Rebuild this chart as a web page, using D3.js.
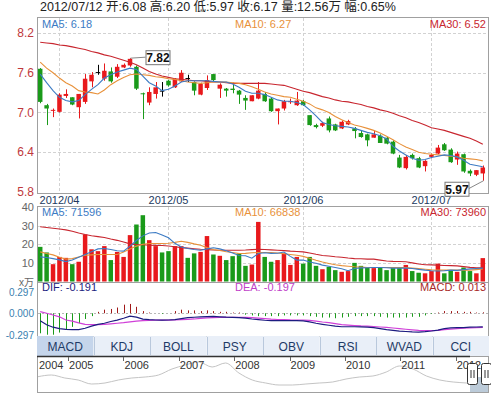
<!DOCTYPE html>
<html>
<head>
<meta charset="utf-8">
<script src="https://cdn.jsdelivr.net/npm/d3@7"></script>
<style>
  body { margin: 0; background: #fff; }
  text { font-family: "Liberation Sans", Arial, "Noto Sans CJK SC", sans-serif; }
</style>
</head>
<body>
<div id="chart"></div>
<script>
// ---- data (price in yuan, volume in 万 shares) ----
const open  = [7.66,7.11,7.03,7.01,7.25,7.23,7.08,7.16,7.47,7.61,7.51,7.62,7.54,7.68,7.71,7.69,7.29,7.15,7.28,7.33,
               7.48,7.38,7.47,7.52,7.46,7.27,7.37,7.58,7.36,7.36,7.36,7.33,7.22,7.17,7.21,7.28,7.21,7.02,7.06,7.16,
               7.11,7.17,6.96,6.81,6.80,6.91,6.82,6.76,6.82,6.76,6.69,6.67,6.62,6.65,6.62,6.56,6.32,6.16,6.36,6.31,
               6.19,6.33,6.38,6.52,6.44,6.29,6.37,6.12,6.06,6.08];
const high  = [7.67,7.13,7.06,7.29,7.35,7.23,7.28,7.58,7.61,7.72,7.74,7.68,7.73,7.74,7.82,7.71,7.30,7.38,7.46,7.46,
               7.49,7.52,7.64,7.57,7.47,7.45,7.56,7.58,7.44,7.37,7.45,7.34,7.26,7.26,7.46,7.31,7.23,7.06,7.19,7.21,
               7.31,7.19,6.96,6.83,6.86,6.94,6.83,6.88,6.89,6.78,6.73,6.68,6.72,6.67,6.63,6.58,6.36,6.36,6.38,6.33,
               6.28,6.38,6.51,6.54,6.46,6.41,6.38,6.14,6.13,6.20];
const low   = [7.14,6.81,6.93,7.00,7.22,7.11,6.91,7.13,7.38,7.57,7.48,7.45,7.52,7.67,7.69,7.34,6.90,7.11,7.21,7.24,
               7.39,7.37,7.46,7.46,7.26,7.26,7.34,7.46,7.22,7.24,7.29,7.13,7.04,7.17,7.20,7.16,7.01,6.82,7.03,7.13,
               7.10,7.10,6.80,6.76,6.78,6.70,6.72,6.75,6.81,6.61,6.62,6.49,6.62,6.54,6.52,6.37,6.16,6.14,6.29,6.16,
               6.11,6.31,6.37,6.42,6.24,6.21,6.09,6.04,6.04,5.97];
const close = [7.16,7.06,7.04,7.27,7.28,7.12,7.28,7.51,7.57,7.61,7.63,7.47,7.69,7.72,7.81,7.36,7.28,7.31,7.38,7.33,
               7.41,7.51,7.60,7.52,7.33,7.43,7.49,7.49,7.42,7.33,7.34,7.27,7.18,7.26,7.33,7.17,7.02,7.06,7.17,7.17,
               7.18,7.11,6.81,6.78,6.84,6.73,6.73,6.86,6.87,6.72,6.63,6.58,6.67,6.54,6.53,6.38,6.17,6.33,6.31,6.17,
               6.27,6.36,6.47,6.43,6.25,6.38,6.11,6.08,6.13,6.17];
const ma5   = [7.58,7.45,7.33,7.23,7.18,7.16,7.18,7.27,7.35,7.42,7.52,7.57,7.61,7.64,7.67,7.65,7.55,7.45,7.40,7.33,
               7.35,7.40,7.46,7.48,7.48,7.48,7.48,7.47,7.46,7.46,7.43,7.38,7.32,7.29,7.29,7.27,7.23,7.19,7.17,7.17,
               7.15,7.12,7.04,6.95,6.85,6.82,6.80,6.79,6.78,6.76,6.73,6.70,6.68,6.65,6.60,6.49,6.42,6.36,6.31,6.28,
               6.29,6.32,6.34,6.36,6.35,6.33,6.28,6.22,6.20,6.18];
const ma10  = [7.76,7.67,7.60,7.52,7.45,7.40,7.33,7.31,7.30,7.28,7.34,7.42,7.48,7.53,7.57,7.58,7.57,7.56,7.54,7.53,
               7.51,7.50,7.48,7.46,7.45,7.44,7.45,7.46,7.46,7.46,7.45,7.44,7.42,7.39,7.35,7.31,7.28,7.26,7.24,7.23,
               7.20,7.17,7.13,7.07,7.04,7.00,6.94,6.89,6.85,6.81,6.79,6.76,6.73,6.69,6.64,6.59,6.53,6.48,6.44,6.40,
               6.38,6.37,6.36,6.35,6.34,6.33,6.31,6.30,6.29,6.27];
const ma30  = [8.06,8.05,8.04,8.02,8.01,7.99,7.97,7.95,7.92,7.90,7.87,7.85,7.82,7.79,7.76,7.72,7.67,7.62,7.58,7.55,
               7.53,7.51,7.50,7.49,7.48,7.48,7.47,7.46,7.46,7.45,7.44,7.44,7.44,7.44,7.44,7.44,7.43,7.42,7.41,7.38,
               7.35,7.32,7.30,7.27,7.24,7.22,7.19,7.17,7.16,7.14,7.12,7.09,7.07,7.04,7.02,6.99,6.95,6.92,6.88,6.85,
               6.81,6.77,6.75,6.73,6.70,6.67,6.64,6.61,6.57,6.52];
const volume = [18.6,15.6,9.3,13.2,12.7,9.3,10.6,25.3,17.3,16.3,19.0,11.5,15.9,13.2,24.9,30.6,35.6,22.2,19.0,15.6,
                16.3,19.0,19.0,12.7,15.1,15.9,24.4,14.5,13.8,11.5,13.6,15.1,8.4,9.1,32.0,13.2,10.6,11.5,15.1,8.9,
                13.2,9.6,13.2,8.4,6.6,7.9,6.1,5.2,5.6,10.0,8.4,7.5,7.2,7.5,6.1,7.2,7.2,8.9,5.6,4.7,
                4.4,5.6,9.6,4.4,6.1,5.2,7.5,5.6,4.4,12.56];
const volMa5  = [13.2,12.9,12.3,11.6,10.7,11.5,13.0,14.5,16.0,17.5,17.7,17.2,16.5,16.3,19.0,22.0,24.5,26.0,26.3,25.0,
                 23.5,20.5,18.5,17.7,17.2,16.8,17.5,18.1,17.5,16.5,15.3,14.0,13.8,12.5,15.0,15.4,15.1,15.2,15.8,13.5,
                 11.5,11.5,10.5,9.8,8.8,8.2,7.5,6.8,5.8,7.0,7.3,7.4,7.5,7.5,7.4,7.2,7.2,7.2,7.0,6.5,
                 6.1,5.8,5.6,5.8,6.1,6.0,6.4,6.8,7.0,7.16];
const volMa10 = [15.9,15.0,14.3,13.0,12.0,12.3,13.2,14.1,14.3,14.5,14.5,14.5,14.5,15.8,17.5,19.0,20.0,20.4,20.4,20.4,
                 20.5,21.0,21.6,21.0,20.2,19.5,18.2,17.2,16.6,16.0,15.6,15.0,15.1,15.4,15.6,15.6,15.6,15.3,14.9,14.5,
                 14.1,13.5,12.5,11.4,10.5,9.7,9.0,8.5,8.2,7.9,7.7,7.5,7.5,7.5,7.5,7.5,7.5,7.5,7.2,6.9,
                 6.6,6.3,6.1,6.1,6.1,6.1,6.2,6.1,6.4,6.68];
const volMa30 = [29.4,29.0,28.6,28.2,27.7,27.0,26.0,25.2,24.6,24.1,23.6,22.8,22.1,21.2,20.2,19.8,19.7,19.5,19.4,19.3,
                 19.1,18.7,18.2,17.9,17.6,17.3,17.1,16.9,16.8,16.8,16.8,16.8,16.9,17.1,17.3,17.2,17.0,16.8,16.6,16.3,
                 16.1,15.9,15.3,14.6,14.0,13.7,13.3,13.0,12.6,12.3,12.2,12.0,12.0,11.5,11.0,10.8,10.7,10.6,10.0,9.4,
                 9.0,8.9,8.8,8.6,8.5,8.4,8.0,7.6,7.4,7.4];
const dif  = [-0.104,-0.160,-0.195,-0.215,-0.225,-0.228,-0.228,-0.210,-0.180,-0.155,-0.140,-0.115,-0.095,-0.070,-0.040,-0.055,-0.082,-0.090,-0.094,-0.095,
              -0.094,-0.088,-0.075,-0.062,-0.056,-0.050,-0.047,-0.045,-0.050,-0.055,-0.058,-0.062,-0.068,-0.080,-0.088,-0.098,-0.104,-0.104,-0.104,-0.104,
              -0.104,-0.106,-0.120,-0.140,-0.155,-0.168,-0.180,-0.189,-0.189,-0.189,-0.190,-0.195,-0.200,-0.215,-0.230,-0.240,-0.250,-0.255,-0.260,-0.263,
              -0.258,-0.248,-0.235,-0.215,-0.205,-0.200,-0.200,-0.195,-0.192,-0.191];
const dea  = [0.023,0.000,-0.024,-0.050,-0.094,-0.110,-0.135,-0.155,-0.160,-0.158,-0.155,-0.148,-0.140,-0.132,-0.120,-0.110,-0.104,-0.100,-0.097,-0.096,
              -0.096,-0.094,-0.090,-0.085,-0.080,-0.072,-0.065,-0.060,-0.058,-0.057,-0.056,-0.056,-0.057,-0.062,-0.068,-0.075,-0.082,-0.087,-0.090,-0.093,
              -0.094,-0.096,-0.100,-0.110,-0.122,-0.132,-0.145,-0.158,-0.165,-0.172,-0.177,-0.180,-0.185,-0.192,-0.198,-0.206,-0.215,-0.224,-0.232,-0.240,
              -0.244,-0.244,-0.238,-0.230,-0.222,-0.215,-0.210,-0.205,-0.200,-0.197];
const macd = [-0.28,-0.30,-0.30,-0.27,-0.23,-0.19,-0.14,-0.08,-0.04,0.02,0.05,0.06,0.08,0.12,0.13,0.09,0.03,0.01,0.00,-0.01,
              0.00,0.03,0.05,0.04,0.04,0.03,0.04,0.03,0.02,0.02,0.01,0.01,-0.02,-0.03,-0.04,-0.04,-0.04,-0.04,-0.03,-0.03,
              -0.03,-0.03,-0.04,-0.05,-0.06,-0.06,-0.07,-0.06,-0.05,-0.04,-0.04,-0.04,-0.04,-0.05,-0.06,-0.06,-0.06,-0.06,-0.05,-0.05,
              -0.03,-0.01,0.01,0.03,0.03,0.03,0.02,0.02,0.01,0.013];

// month labels and the index of the first trading day of each month
const monthLabels = ["2012/04", "2012/05", "2012/06", "2012/07"];
const monthStart  = [3, 20, 41, 61];

const priceTicks = [8.2, 7.6, 7.0, 6.4, 5.8];
const volTicks   = [40, 30, 20, 10];
const macdTicks  = [0.297, 0.000, -0.297];

const tabs = ["MACD", "KDJ", "BOLL", "PSY", "OBV", "RSI", "WVAD", "CCI"];

// long history strip at the bottom (relative level)
const navYears  = [2004, 2005, 2006, 2007, 2008, 2009, 2010, 2011, 2012];
const navValues = [15.3,17,14,12,8,9,12,14,15,17,23,27,30,25,29,19,12,9,7,7,8,9,10,13,15,16,20,26,23,16,12,10,9,8];

const title = "2012/07/12 开:6.08 高:6.20 低:5.97 收:6.17 量:12.56万 幅:0.65%";

// ---- colours ----
const RED = "#e8191c", GREEN = "#1a9a1a";
const C_MA5 = "#3c7bc4", C_MA10 = "#e8913a", C_MA30 = "#c8262f";

// ---- layout ----
const W = 491, H = 394;
const left = 37, right = 489;
const svg = d3.select("#chart").append("svg").attr("width", W).attr("height", H);

const idx = close.map((d, i) => i);
const x = d3.scaleBand().domain(idx).range([left, 486]).paddingInner(0.3).paddingOuter(0.15);
const bw = x.bandwidth();
const cx = i => Math.round(x(i) + bw / 2) + 0.5;

const yP = d3.scaleLinear().domain([5.8, 8.2]).range([192, 33]);
const yV = d3.scaleLinear().domain([0, 40]).range([281.5, 207]);
const yM = d3.scaleLinear().domain([-0.297, 0.297]).range([334.5, 292]);

const colorOf = i => close[i] > open[i] ? RED : close[i] < open[i] ? GREEN : "#000";
const volColor = i => {
  if (close[i] !== open[i]) return colorOf(i);
  return i > 0 && close[i] < close[i - 1] ? GREEN : RED;
};

// title
svg.append("text").attr("x", 40).attr("y", 11).attr("font-size", 12.5).attr("fill", "#222")
  .text(title);

// panel frames
const panels = [[17, 193], [206, 282], [282, 336]];
panels.forEach(([t, b]) => {
  svg.append("rect").attr("x", left + 0.5).attr("y", t + 0.5)
    .attr("width", right - left - 1).attr("height", b - t)
    .attr("fill", "#fff").attr("stroke", "#a0a0a0");
});

const grid = svg.append("g").attr("stroke", "#d2d2d2").attr("stroke-dasharray", "3,2");

// horizontal grid lines
priceTicks.slice(0, 4).forEach(t => {
  grid.append("line").attr("x1", left + 1).attr("x2", right - 1)
    .attr("y1", Math.round(yP(t)) + 0.5).attr("y2", Math.round(yP(t)) + 0.5);
});
volTicks.slice(1).forEach(t => {
  grid.append("line").attr("x1", left + 1).attr("x2", right - 1)
    .attr("y1", Math.round(yV(t)) + 0.5).attr("y2", Math.round(yV(t)) + 0.5);
});
// vertical month grid lines (price + volume)
monthStart.forEach(i => {
  grid.append("line").attr("x1", cx(i)).attr("x2", cx(i)).attr("y1", 18).attr("y2", 192);
  grid.append("line").attr("x1", cx(i)).attr("x2", cx(i)).attr("y1", 207).attr("y2", 281);
});
// macd zero line
svg.append("line").attr("x1", left + 1).attr("x2", right - 1)
  .attr("y1", Math.round(yM(0)) + 0.5).attr("y2", Math.round(yM(0)) + 0.5)
  .attr("stroke", "#b8b8b8").attr("stroke-dasharray", "2,2");

// y axis labels
const axisFont = 12;
priceTicks.forEach(t => {
  svg.append("text").attr("x", 34).attr("y", yP(t) + 4).attr("text-anchor", "end")
    .attr("font-size", axisFont).attr("fill", "#c0383c").text(t.toFixed(1));
});
volTicks.forEach(t => {
  svg.append("text").attr("x", 34).attr("y", yV(t) + 4).attr("text-anchor", "end")
    .attr("font-size", 11).attr("fill", "#666").text(t);
});
svg.append("text").attr("x", 34).attr("y", 286).attr("text-anchor", "end")
  .attr("font-size", 10).attr("fill", "#666").text("x万");
macdTicks.forEach(t => {
  svg.append("text").attr("x", 34).attr("y", yM(t) + 4).attr("text-anchor", "end")
    .attr("font-size", 10).attr("fill", "#3a7fb0").text(t.toFixed(3));
});

// month labels under price panel
monthStart.forEach((i, k) => {
  svg.append("text").attr("x", cx(i)).attr("y", 204).attr("text-anchor", "middle")
    .attr("font-size", 11).attr("fill", "#22395e").text(monthLabels[k]);
});

// ---- candles ----
const candles = svg.append("g");
idx.forEach(i => {
  const c = colorOf(i);
  candles.append("line").attr("x1", cx(i)).attr("x2", cx(i))
    .attr("y1", yP(high[i])).attr("y2", yP(low[i])).attr("stroke", c);
  const top = yP(Math.max(open[i], close[i]));
  const bot = yP(Math.min(open[i], close[i]));
  candles.append("rect").attr("x", x(i)).attr("y", top)
    .attr("width", bw).attr("height", Math.max(1, bot - top)).attr("fill", c);
});

// moving averages
const lineP = arr => d3.line().x((d, i) => x(i) + bw / 2).y(d => yP(d))(arr);
[[ma30, C_MA30], [ma10, C_MA10], [ma5, C_MA5]].forEach(([arr, col]) => {
  svg.append("path").attr("d", lineP(arr)).attr("fill", "none").attr("stroke", col).attr("stroke-width", 1.1);
});

// max / min callouts
const iMax = d3.maxIndex(high), iMin = d3.minIndex(low);
function callout(i, val, dx, dy) {
  const px = cx(i), py = yP(val);
  const bx = px + dx, by = py + dy;
  const g = svg.append("g");
  const lx = dx > 0 ? bx : bx + 24;
  g.append("line").attr("x1", px).attr("y1", py).attr("x2", lx).attr("y2", by + 7)
    .attr("stroke", "#888");
  g.append("rect").attr("x", bx + 0.5).attr("y", by + 0.5).attr("width", 24).attr("height", 14)
    .attr("fill", "#fff").attr("stroke", "#777");
  g.append("text").attr("x", bx + 12.5).attr("y", by + 12).attr("text-anchor", "middle")
    .attr("font-size", 12).attr("font-weight", "bold").attr("fill", "#111").text(val.toFixed(2));
}
callout(iMax, high[iMax], 15, -8);
callout(iMin, low[iMin], -39, 1);

// ---- volume ----
const vol = svg.append("g");
idx.forEach(i => {
  vol.append("rect").attr("x", x(i)).attr("y", yV(volume[i]))
    .attr("width", bw).attr("height", yV(0) - yV(volume[i])).attr("fill", volColor(i));
});
const lineV = arr => d3.line().x((d, i) => x(i) + bw / 2).y(d => yV(d))(arr);
[[volMa30, C_MA30], [volMa10, C_MA10], [volMa5, C_MA5]].forEach(([arr, col]) => {
  svg.append("path").attr("d", lineV(arr)).attr("fill", "none").attr("stroke", col).attr("stroke-width", 1.1);
});

// ---- MACD ----
const mg = svg.append("g");
idx.forEach(i => {
  mg.append("line").attr("x1", cx(i)).attr("x2", cx(i))
    .attr("y1", yM(0)).attr("y2", yM(macd[i]))
    .attr("stroke", macd[i] >= 0 ? "#a01818" : GREEN);
});
const lineM = arr => d3.line().x((d, i) => x(i) + bw / 2).y(d => yM(d))(arr);
svg.append("path").attr("d", lineM(dea)).attr("fill", "none").attr("stroke", "#d040d8").attr("stroke-width", 1.2);
svg.append("path").attr("d", lineM(dif)).attr("fill", "none").attr("stroke", "#1c1c80").attr("stroke-width", 1.2);

// ---- legends ----
function legend(yy, items) {
  const [a, b, c] = items;
  svg.append("text").attr("x", 42).attr("y", yy).attr("font-size", 11).attr("fill", a[1]).text(a[0]);
  svg.append("text").attr("x", 235).attr("y", yy).attr("font-size", 11).attr("fill", b[1]).text(b[0]);
  svg.append("text").attr("x", 486).attr("y", yy).attr("text-anchor", "end").attr("font-size", 11)
    .attr("fill", c[1]).text(c[0]);
}
legend(28, [["MA5: " + ma5[69].toFixed(2), C_MA5], ["MA10: " + ma10[69].toFixed(2), C_MA10], ["MA30: " + ma30[69].toFixed(2), C_MA30]]);
legend(216, [["MA5: 71596", C_MA5], ["MA10: 66838", C_MA10], ["MA30: 73960", C_MA30]]);
legend(291, [["DIF: " + dif[69].toFixed(3), "#1c1c80"], ["DEA: " + dea[69].toFixed(3), "#c040c8"], ["MACD: " + macd[69].toFixed(3), "#a82828"]]);

// ---- tabs ----
const tabX = d3.scaleBand().domain(tabs).range([left, right]);
const tg = svg.append("g");
tabs.forEach((t, k) => {
  tg.append("rect").attr("x", tabX(t)).attr("y", 336).attr("width", tabX.bandwidth()).attr("height", 20)
    .attr("fill", k === 0 ? "#c5d5eb" : "#e9eff8");
  if (k > 0) tg.append("line").attr("x1", Math.round(tabX(t)) + 0.5).attr("x2", Math.round(tabX(t)) + 0.5)
    .attr("y1", 337).attr("y2", 355).attr("stroke", "#b9c8dc");
  tg.append("text").attr("x", tabX(t) + tabX.bandwidth() / 2).attr("y", 350.5).attr("text-anchor", "middle")
    .attr("font-size", 12).attr("fill", "#1e3a66").text(t);
});

// ---- navigator ----
const navX = d3.scaleLinear().domain([2004.44, 2012.6]).range([left, right]);
const navIx = d3.scaleLinear().domain([0, navValues.length - 1]).range([38, 480]);
const navY = d3.scaleLinear().domain([0, 30]).range([392, 362]);
svg.append("rect").attr("x", left + 0.5).attr("y", 356.5).attr("width", right - left - 1).attr("height", 36)
  .attr("fill", "#fff").attr("stroke", "#a0a0a0");
svg.append("line").attr("x1", left).attr("x2", 470).attr("y1", 356.5).attr("y2", 356.5)
  .attr("stroke", "#333").attr("stroke-width", 1.5);
svg.append("path").attr("d", d3.line().x((d, i) => navIx(i)).y(d => navY(d)).curve(d3.curveMonotoneX)(navValues))
  .attr("fill", "none").attr("stroke", "#c4c4c4");
navYears.forEach((yr, k) => {
  const px = Math.max(left + 1, navX(yr));
  if (k > 0) svg.append("line").attr("x1", Math.round(px) + 0.5).attr("x2", Math.round(px) + 0.5)
    .attr("y1", 357).attr("y2", 361).attr("stroke", "#666");
  svg.append("text").attr("x", px + 1).attr("y", 369).attr("font-size", 11).attr("fill", "#333").text(yr);
});
// selection window + handles
svg.append("rect").attr("x", 470).attr("y", 377).attr("width", 18).attr("height", 15).attr("fill", "#bccbd9");
[467, 481].forEach(hx => {
  svg.append("rect").attr("x", hx + 0.5).attr("y", 363.5).attr("width", 10).attr("height", 21).attr("rx", 2)
    .attr("fill", "#fff").attr("stroke", "#333");
  [hx + 4, hx + 7].forEach(lx => svg.append("line").attr("x1", lx).attr("x2", lx)
    .attr("y1", 370).attr("y2", 378).attr("stroke", "#333"));
});
</script>
</body>
</html>
